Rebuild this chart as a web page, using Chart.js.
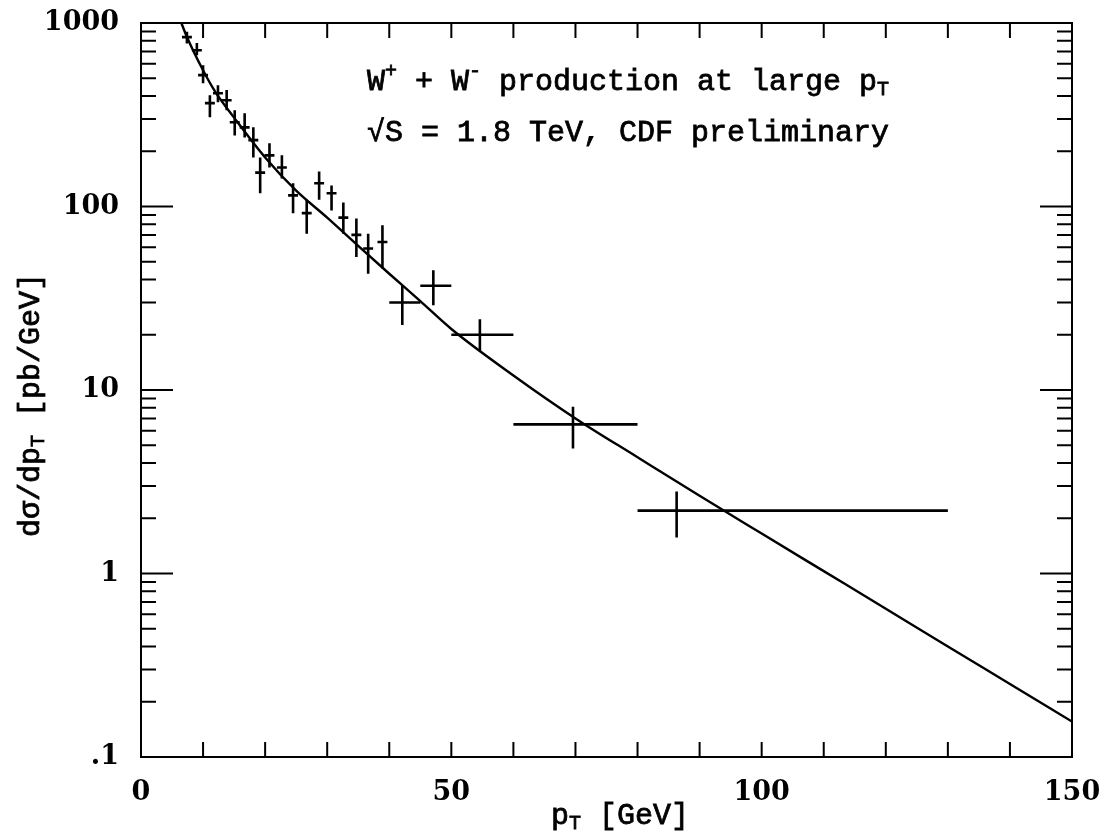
<!DOCTYPE html>
<html>
<head>
<meta charset="utf-8">
<script src="https://cdn.jsdelivr.net/npm/chart.js@4"></script>
<style>
  html, body { margin: 0; background: #fff; }
</style>
</head>
<body>
<canvas id="wChart" width="1102" height="834"></canvas>
<script>
// CDF data points: pT bin centre / edges [GeV], cross section + error [pb/GeV]
const ptCenter = [7.4, 9.0, 10.0, 11.1, 12.4, 13.8, 15.1, 16.7, 18.1, 19.2, 20.7, 22.7, 24.5, 26.7, 28.7, 30.7, 32.6, 34.7, 36.6, 38.9, 42.1, 47.1, 54.6, 69.6, 86.3];
const ptLow    = [6.6, 8.2, 9.2, 10.3, 11.6, 13.0, 14.3, 15.9, 17.3, 18.4, 19.9, 21.9, 23.7, 25.9, 27.9, 29.9, 31.8, 33.9, 35.8, 38.1, 40, 45, 50, 60, 80];
const ptHigh   = [8.2, 9.8, 10.8, 11.9, 13.2, 14.6, 15.9, 17.5, 18.9, 20.0, 21.5, 23.5, 25.3, 27.5, 29.5, 31.5, 33.4, 35.5, 37.4, 39.7, 45, 50, 60, 80, 130];
const xsecCenter = [838, 711, 520, 366, 414, 379, 288, 270, 230, 153, 190, 163, 115, 92, 134, 118, 87, 70, 59, 64, 30, 37, 20, 6.5, 2.2];
const xsecLow    = [774, 668, 470, 306, 370, 335, 244, 238, 185, 118, 163, 142, 92, 71, 109, 95, 71, 53, 43, 46, 22.6, 29, 16.3, 4.8, 1.57];
const xsecHigh   = [896, 778, 589, 404, 458, 431, 335, 322, 270, 185, 221, 190, 134, 109, 155, 130, 105, 86, 71, 79, 37, 45, 24.3, 8.1, 2.8];

// theory curve
const theoryPt   = [6.5, 7.4, 10, 12, 15, 20, 25, 30, 35, 40, 45, 50, 60, 70, 80, 90, 100, 110, 120, 130, 140, 150];
const theoryXsec = [1000, 840, 553, 420, 305, 185, 122, 87, 61, 43, 30.5, 21.5, 12, 7.0, 4.3, 2.65, 1.65, 1.03, 0.643, 0.40, 0.25, 0.156];

const xTickValues = [0, 50, 100, 150];
const yTickValues = [0.1, 1, 10, 100, 1000];
const yTickLabels = ['.1', '1', '10', '100', '1000'];

const titleLine1 = [{t: 'W'}, {t: '+', sup: true}, {t: ' + W'}, {t: '-', sup: true}, {t: ' production at large p'}, {t: 'T', sub: true}];
const titleLine2 = [{t: '\u221AS = 1.8 TeV, CDF preliminary'}];
const xTitle = [{t: 'p'}, {t: 'T', sub: true}, {t: ' [GeV]'}];
const yTitle = [{t: 'd\u03C3/dp'}, {t: 'T', sub: true}, {t: ' [pb/GeV]'}];

const textFont = '"Liberation Mono", monospace';
const tickFont = {family: '"DejaVu Serif", serif', size: 27, weight: 'bold'};

function richFont(p, size) {
  const s = (p.sup || p.sub) ? Math.round(size * 0.65) : size;
  return s + 'px ' + textFont;
}

function drawRich(ctx, parts, x, y, size, align) {
  const widths = parts.map(p => { ctx.font = richFont(p, size); return ctx.measureText(p.t).width; });
  const total = widths.reduce((a, b) => a + b, 0);
  let cx = align === 'center' ? x - total / 2 : x;
  parts.forEach((p, i) => {
    ctx.font = richFont(p, size);
    const dy = p.sup ? -size * 0.42 : (p.sub ? size * 0.15 : 0);
    ctx.fillText(p.t, cx, y + dy);
    ctx.strokeText(p.t, cx, y + dy);
    cx += widths[i];
  });
}

// frame box with inward ticks on all four sides
const frameTicks = {
  id: 'frameTicks',
  afterDraw(chart) {
    const {ctx, chartArea: a, scales: {x, y}} = chart;
    ctx.save();
    ctx.strokeStyle = '#000';
    ctx.lineWidth = 2;
    ctx.strokeRect(a.left, a.top, a.right - a.left, a.bottom - a.top);
    ctx.beginPath();
    for (let v = 10; v < 150; v += 10) {
      const px = x.getPixelForValue(v);
      ctx.moveTo(px, a.bottom); ctx.lineTo(px, a.bottom - 15);
      ctx.moveTo(px, a.top); ctx.lineTo(px, a.top + 15);
    }
    for (let e = -1; e < 3; e++) {
      for (let m = 1; m < 10; m++) {
        const py = y.getPixelForValue(m * Math.pow(10, e));
        const len = m === 1 ? 32 : 15;
        ctx.moveTo(a.left, py); ctx.lineTo(a.left + len, py);
        ctx.moveTo(a.right, py); ctx.lineTo(a.right - len, py);
      }
    }
    ctx.stroke();
    ctx.restore();
  }
};

// error bar crosses for the data
const errorBars = {
  id: 'errorBars',
  afterDatasetsDraw(chart) {
    const {ctx, scales: {x, y}} = chart;
    ctx.save();
    ctx.strokeStyle = '#000';
    ctx.lineWidth = 2.6;
    ctx.beginPath();
    ptCenter.forEach((pt, i) => {
      const px = x.getPixelForValue(pt);
      const py = y.getPixelForValue(xsecCenter[i]);
      ctx.moveTo(x.getPixelForValue(ptLow[i]), py);
      ctx.lineTo(x.getPixelForValue(ptHigh[i]), py);
      ctx.moveTo(px, y.getPixelForValue(xsecLow[i]));
      ctx.lineTo(px, y.getPixelForValue(xsecHigh[i]));
    });
    ctx.stroke();
    ctx.restore();
  }
};

// annotation text and axis titles (need sub/superscripts)
const texts = {
  id: 'texts',
  afterDraw(chart) {
    const ctx = chart.ctx;
    ctx.save();
    ctx.fillStyle = '#000';
    ctx.strokeStyle = '#000';
    ctx.lineWidth = 0.8;
    ctx.textBaseline = 'alphabetic';
    ctx.textAlign = 'left';
    drawRich(ctx, titleLine1, 367, 90, 30, 'left');
    drawRich(ctx, titleLine2, 367, 141, 30, 'left');
    drawRich(ctx, xTitle, 620, 824, 30, 'center');
    ctx.translate(39, 405);
    ctx.rotate(-Math.PI / 2);
    drawRich(ctx, yTitle, 0, 0, 30, 'center');
    ctx.restore();
  }
};

const dataPoints = ptCenter.map((pt, i) => ({x: pt, y: xsecCenter[i]}));
const theoryPoints = theoryPt.map((pt, i) => ({x: pt, y: theoryXsec[i]}));

new Chart(document.getElementById('wChart').getContext('2d'), {
  type: 'scatter',
  data: {
    datasets: [{
      label: 'CDF preliminary',
      data: dataPoints,
      pointRadius: 0,
      showLine: false
    }, {
      label: 'theory',
      data: theoryPoints,
      showLine: true,
      borderColor: '#000',
      borderWidth: 2.4,
      pointRadius: 0,
      cubicInterpolationMode: 'monotone'
    }]
  },
  options: {
    responsive: false,
    devicePixelRatio: 1,
    animation: false,
    layout: {padding: {left: 0, right: 30, top: 23, bottom: 0}},
    plugins: {legend: {display: false}, tooltip: {enabled: false}},
    scales: {
      x: {
        type: 'linear',
        min: 0,
        max: 150,
        grid: {display: false},
        border: {display: false},
        afterBuildTicks: s => { s.ticks = xTickValues.map(v => ({value: v})); },
        afterFit: s => { s.height = 77; s.paddingLeft = 0; s.paddingRight = 0; },
        ticks: {color: '#000', font: tickFont, padding: 12, maxRotation: 0}
      },
      y: {
        type: 'logarithmic',
        min: 0.1,
        max: 1000,
        grid: {display: false},
        border: {display: false},
        afterBuildTicks: s => { s.ticks = yTickValues.map(v => ({value: v})); },
        afterFit: s => { s.width = 141; s.paddingTop = 0; s.paddingBottom = 0; },
        ticks: {
          color: '#000',
          font: tickFont,
          padding: 14,
          callback: (v, i) => yTickLabels[i]
        }
      }
    }
  },
  plugins: [frameTicks, errorBars, texts]
});
</script>
</body>
</html>
